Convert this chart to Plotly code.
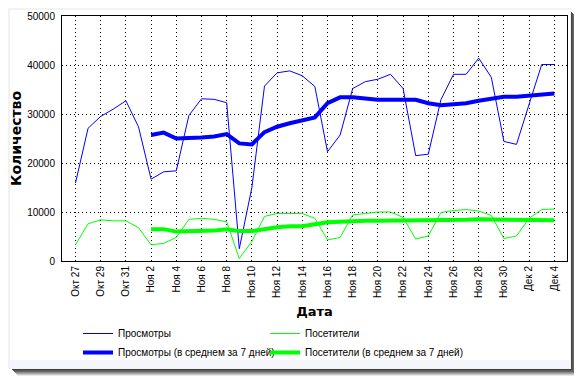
import plotly.graph_objects as go
import pandas as pd

dates = pd.date_range("2008-10-27", "2008-12-04", freq="D").strftime("%Y-%m-%d").tolist()

views = [15900, 27100, 29500, 31000, 32700, 27400, 16700, 18200, 18400, 29700,
         33100, 33000, 32300, 2500, 15000, 35700, 38400, 38800, 37800, 35600,
         22300, 25700, 35200, 36600, 37100, 38100, 35200, 21500, 21800, 32900,
         38100, 38100, 41400, 37500, 24400, 23800, 32000, 40100, 40100]
visitors = [3300, 7600, 8400, 8200, 8200, 6800, 3300, 3600, 4800, 8500,
            8700, 8500, 8000, 500, 4000, 9100, 9700, 9700, 9700, 8700,
            4300, 4800, 9400, 9700, 10000, 10000, 8900, 4500, 5100, 9900,
            10300, 10500, 10200, 9300, 4600, 5100, 8700, 10500, 10600]
# 7-day averages start at Nov 2 (index 6)
avg_dates = dates[6:]
views_avg = [25700, 26200, 25000, 25000, 25200, 25400, 25900, 24000, 23800, 26300,
             27400, 28100, 28800, 29300, 32200, 33400, 33400, 33100, 32900, 32900,
             32900, 32900, 32200, 31800, 32000, 32200, 32700, 33100, 33500, 33500,
             33700, 34000, 34200]
visitors_avg = [6500, 6500, 6000, 6000, 6200, 6200, 6500, 6100, 6100, 6600,
                6900, 7100, 7100, 7500, 7900, 8000, 8200, 8200, 8200, 8200,
                8200, 8300, 8400, 8400, 8400, 8400, 8500, 8500, 8500, 8500,
                8400, 8300, 8300]

tick_vals = dates[::2]
tick_text = ["Окт 27", "Окт 29", "Окт 31", "Ноя 2", "Ноя 4", "Ноя 6", "Ноя 8",
             "Ноя 10", "Ноя 12", "Ноя 14", "Ноя 16", "Ноя 18", "Ноя 20", "Ноя 22",
             "Ноя 24", "Ноя 26", "Ноя 28", "Ноя 30", "Дек 2", "Дек 4"]
y_ticks = [0, 10000, 20000, 30000, 40000, 50000]

BLUE = "#0000ff"
GREEN = "#00ff00"
FONT = "Liberation Sans, Arial, sans-serif"

fig = go.Figure()
fig.add_trace(go.Scatter(x=dates, y=views, mode="lines", name="Просмотры",
                         legend="legend", line=dict(color=BLUE, width=1)))
fig.add_trace(go.Scatter(x=dates, y=visitors, mode="lines", name="Посетители",
                         legend="legend2", line=dict(color=GREEN, width=1)))
fig.add_trace(go.Scatter(x=avg_dates, y=views_avg, mode="lines",
                         name="Просмотры (в среднем за 7 дней)", legend="legend",
                         line=dict(color=BLUE, width=4)))
fig.add_trace(go.Scatter(x=avg_dates, y=visitors_avg, mode="lines",
                         name="Посетители (в среднем за 7 дней)", legend="legend2",
                         line=dict(color=GREEN, width=4)))

# page has an 8px body margin, so the figure is 8px smaller than the window
OFF = 8
W, H = 582 - OFF, 379 - OFF
L, R, T, B = 62, 567, 16, 261  # plot area in page pixels


def px(x):
    return (x - L) / (R - L)


def py(y):
    return (B - y) / (B - T)


shapes = []
# drop shadow
shadow_cols = ["#e8e8e8", "#c8c8c8", "#a8a8a8", "#888888", "#6a6a6a", "#555555", "#444444"]
for k, c in zip(range(8, 1, -1), shadow_cols):
    shapes.append(dict(type="rect", xref="paper", yref="paper", layer="below",
                       x0=px(10 + k), x1=px(570 + k), y0=py(368 + k), y1=py(10 + k),
                       fillcolor=c, line=dict(width=0)))
# faint top/left halo
shapes.append(dict(type="rect", xref="paper", yref="paper", layer="below",
                   x0=px(8), x1=px(571), y0=py(369), y1=py(8),
                   fillcolor="#f2f2f2", line=dict(width=0)))
# white card
shapes.append(dict(type="rect", xref="paper", yref="paper", layer="below",
                   x0=px(10), x1=px(570), y0=py(368), y1=py(10),
                   fillcolor="#ffffff", line=dict(width=0)))
# light band at bottom of card
shapes.append(dict(type="rect", xref="paper", yref="paper", layer="below",
                   x0=px(10), x1=px(570), y0=py(368), y1=py(360),
                   fillcolor="#f4f6fc", line=dict(width=0)))

leg_common = dict(orientation="v", xanchor="left", yanchor="top",
                  font=dict(family=FONT, size=10), bgcolor="rgba(0,0,0,0)",
                  tracegroupgap=0, itemwidth=30, borderwidth=0)

fig.update_layout(
    width=W, height=H,
    margin=dict(l=L - OFF, r=W - (R - OFF), t=T - OFF, b=H - (B - OFF), autoexpand=False),
    paper_bgcolor="#ffffff", plot_bgcolor="#ffffff",
    font=dict(family=FONT, size=10, color="#000000"),
    shapes=shapes,
    showlegend=True,
    legend=dict(x=px(78), y=py(319), **leg_common),
    legend2=dict(x=px(265), y=py(319), **leg_common),
    xaxis=dict(type="date", range=["2008-10-25T22:20", "2008-12-05T00:10"],
               tickmode="array", tickvals=tick_vals, ticktext=tick_text,
               tickangle=-90, ticks="", showgrid=True, gridcolor="#000000",
               griddash="1px,3px", gridwidth=1, automargin=True,
               showline=True, linecolor="#000000", linewidth=1, mirror=True,
               zeroline=False, tickfont=dict(family=FONT, size=10),
               title=dict(text="<b>Дата</b>", standoff=9,
                          font=dict(family="DejaVu Sans, sans-serif", size=13))),
    yaxis=dict(range=[0, 50000], tickmode="array", tickvals=y_ticks,
               ticktext=[str(v) for v in y_ticks], ticks="", automargin=True,
               showgrid=True, gridcolor="#000000", griddash="1px,3px", gridwidth=1,
               showline=True, linecolor="#000000", linewidth=1, mirror=True,
               zeroline=False, tickfont=dict(family=FONT, size=10), ticklabelstandoff=4,
               title=dict(text="<b>Количество</b>", standoff=2,
                          font=dict(family="DejaVu Sans, sans-serif", size=14))),
)

fig.write_html("out.html")
